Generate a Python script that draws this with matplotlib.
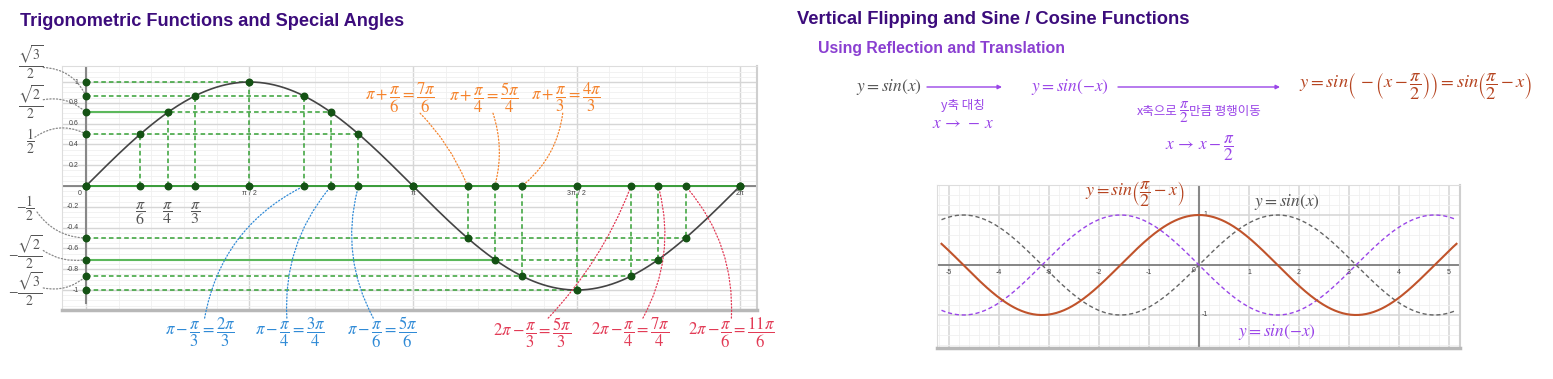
import numpy as np
import matplotlib.pyplot as plt

plt.rcParams['mathtext.fontset'] = 'stix'
plt.rcParams['font.family'] = ['Liberation Sans', 'DejaVu Sans']

# ---- data ----
pi = np.pi
# special angles (in units of pi) shown on the unit sine curve
angle_fracs = [0, 1/6, 1/4, 1/3, 1/2, 2/3, 3/4, 5/6, 1, 7/6, 5/4, 4/3, 3/2, 5/3, 7/4, 11/6, 2]
# horizontal guide for each level ends at this angle (units of pi)
guide_end_fracs = [1/2, 2/3, 3/4, 5/6, 11/6, 7/4, 5/3, 3/2]
solid_guide_fracs = [1/4, 5/4]          # +-sqrt2/2 guides are solid up to here
x_tick_fracs = [0, 1/2, 1, 3/2, 2]
x_tick_text = ['0', 'π / 2', 'π', '3π / 2', '2π']
y_tick_vals = [1, 0.8, 0.6, 0.4, 0.2, -0.2, -0.4, -0.6, -0.8, -1]

value_labels = [r'$\dfrac{\sqrt{3}}{2}$', r'$\dfrac{\sqrt{2}}{2}$', r'$\dfrac{1}{2}$',
                r'$-\dfrac{1}{2}$', r'$-\dfrac{\sqrt{2}}{2}$', r'$-\dfrac{\sqrt{3}}{2}$']
value_targets = [np.sqrt(3)/2, np.sqrt(2)/2, 0.5, -0.5, -np.sqrt(2)/2, -np.sqrt(3)/2]

base_fracs = [1/6, 1/4, 1/3]
base_labels = [r'$\dfrac{\pi}{6}$', r'$\dfrac{\pi}{4}$', r'$\dfrac{\pi}{3}$']

plus_fracs = [7/6, 5/4, 4/3]
plus_labels = [r'$\pi+\dfrac{\pi}{6}=\dfrac{7\pi}{6}$', r'$\pi+\dfrac{\pi}{4}=\dfrac{5\pi}{4}$',
               r'$\pi+\dfrac{\pi}{3}=\dfrac{4\pi}{3}$']
minus_fracs = [2/3, 3/4, 5/6]
minus_labels = [r'$\pi-\dfrac{\pi}{3}=\dfrac{2\pi}{3}$', r'$\pi-\dfrac{\pi}{4}=\dfrac{3\pi}{4}$',
                r'$\pi-\dfrac{\pi}{6}=\dfrac{5\pi}{6}$']
two_minus_fracs = [5/3, 7/4, 11/6]
two_minus_labels = [r'$2\pi-\dfrac{\pi}{3}=\dfrac{5\pi}{3}$', r'$2\pi-\dfrac{\pi}{4}=\dfrac{7\pi}{4}$',
                    r'$2\pi-\dfrac{\pi}{6}=\dfrac{11\pi}{6}$']

right_ticks = [-5, -4, -3, -2, -1, 0, 1, 2, 3, 4, 5]

# ---- colours ----
TITLE = '#3c0c7c'
SUB = '#8a3fd1'
PURPLE = '#9a45e8'
RUST = '#c0532b'
GREEN = '#35a035'
DOT = '#145214'
ORANGE = '#f5822a'
BLUE = '#2f8ad6'
RED = '#e23a55'
GRAY = '#555555'

W, H = 1553, 379
fig = plt.figure(figsize=(W / 100, H / 100), dpi=100)


def box(x0, y0, x1, y1):
    return fig.add_axes([x0 / W, 1 - y1 / H, (x1 - x0) / W, (y1 - y0) / H])


def style_frame(ax):
    for s in ax.spines.values():
        s.set_color('#dddddd')
    ax.spines['bottom'].set_color('#b8b8b8')
    ax.spines['bottom'].set_linewidth(2.5)
    ax.spines['right'].set_color('#cfcfcf')
    ax.spines['right'].set_linewidth(1.5)
    ax.tick_params(which='both', length=0, labelbottom=False, labelleft=False)


# ================= left chart =================
ax = box(62, 66, 757, 310)
ax.set_xlim(-0.23, 6.446)
ax.set_ylim(-1.192, 1.154)
style_frame(ax)
ax.set_xticks(pi * np.arange(0, 2.01, 0.5))
ax.set_xticks(pi * np.arange(0, 2.01, 0.1), minor=True)
ax.set_yticks(np.arange(-1, 1.01, 0.2))
ax.set_yticks(np.arange(-1.15, 1.16, 0.05), minor=True)
ax.grid(which='major', color='#d6d6d6', lw=1.0)
ax.grid(which='minor', color='#f0f0f0', lw=0.6)
ax.set_axisbelow(True)

ax.axhline(0, color='#777777', lw=1.2, zorder=1)
ax.plot([0, 0], [-1.12, 1.15], color='#888888', lw=1.5, zorder=1)
ax.plot([0, 2 * pi], [0, 0], color=GREEN, lw=1.3, zorder=2)

ang = pi * np.array(angle_fracs)
vals = np.sin(ang)
xs = np.linspace(0, 2 * pi, 400)
ax.plot(xs, np.sin(xs), color='#444444', lw=1.2, zorder=3)

# horizontal guides
ends = pi * np.array(guide_end_fracs)
for e in ends:
    ax.plot([0, e], [np.sin(e), np.sin(e)], color=GREEN, lw=1.1, ls=(0, (3, 2)), zorder=2)
for s in pi * np.array(solid_guide_fracs):
    ax.plot([0, s], [np.sin(s), np.sin(s)], color='#5cb85c', lw=1.5, zorder=2)
# vertical guides
for a, v in zip(ang, vals):
    if abs(v) > 1e-9:
        ax.plot([a, a], [0, v], color=GREEN, lw=1.1, ls=(0, (3, 2)), zorder=2)

ax.scatter(ang, vals, s=22, color=DOT, zorder=5)
ax.scatter(ang, np.zeros_like(ang), s=22, color=DOT, zorder=5)
ax.scatter(np.zeros(len(ends)), np.sin(ends), s=22, color=DOT, zorder=5)

for v in y_tick_vals:
    ax.text(-0.07, v, f'{v:g}', fontsize=5, color='#444444', ha='right', va='center')
for f, t in zip(x_tick_fracs, x_tick_text):
    ax.text(pi * f if f else -0.06, -0.07, t, fontsize=5, color='#444444', ha='center', va='center')

# value labels on the left
lab_pos = [(-0.53, 1.19), (-0.53, 0.80), (-0.53, 0.425), (-0.58, -0.21), (-0.58, -0.64), (-0.58, -0.99)]
conn_from = [(-0.41, 1.14), (-0.41, 0.83), (-0.49, 0.47), (-0.47, -0.25), (-0.41, -0.62), (-0.41, -0.98)]
conn_rad = [-0.3, -0.25, -0.3, 0.25, 0.2, 0.25]
for lab, p, c, r, t in zip(value_labels, lab_pos, conn_from, conn_rad, value_targets):
    ax.text(p[0], p[1], lab, fontsize=10, color=GRAY, ha='center', va='center', clip_on=False)
    ax.annotate('', xy=(0, t), xytext=c, annotation_clip=False,
                arrowprops=dict(arrowstyle='-', ls=':', color='#888888', lw=0.9,
                                connectionstyle=f'arc3,rad={r}', shrinkA=0, shrinkB=2))

for f, lab in zip(base_fracs, base_labels):
    ax.text(pi * f, -0.26, lab, fontsize=11.5, color=GRAY, ha='center', va='center')


def group(fracs, labels, centers, starts, rads, color, y_text):
    for f, lab, cx, st, r in zip(fracs, labels, centers, starts, rads):
        ax.text(cx, y_text, lab, fontsize=12, color=color, ha='center', va='center', clip_on=False)
        ax.annotate('', xy=(pi * f, 0), xytext=st, annotation_clip=False,
                    arrowprops=dict(arrowstyle='-', ls=':', color=color, lw=0.9,
                                    connectionstyle=f'arc3,rad={r}', shrinkA=0, shrinkB=3))


group(plus_fracs, plus_labels, [3.02, 3.83, 4.61],
      [(3.21, 0.70), (3.91, 0.70), (4.58, 0.70)], [-0.1, -0.15, -0.2], ORANGE, 0.85)
group(minus_fracs, minus_labels, [1.10, 1.96, 2.85],
      [(1.14, -1.27), (1.93, -1.27), (2.76, -1.27)], [-0.25, -0.2, -0.2], BLUE, -1.41)
group(two_minus_fracs, two_minus_labels, [4.29, 5.23, 6.20],
      [(4.44, -1.27), (5.35, -1.27), (6.20, -1.27)], [0.1, 0.2, 0.2], RED, -1.41)

fig.text(20 / W, 1 - 21 / H, 'Trigonometric Functions and Special Angles', fontsize=13.1,
         fontweight='bold', color=TITLE, va='center')

# ================= right side =================
fig.text(797 / W, 1 - 20 / H, 'Vertical Flipping and Sine / Cosine Functions', fontsize=13.2,
         fontweight='bold', color=TITLE, va='center')
fig.text(818 / W, 1 - 48 / H, 'Using Reflection and Translation', fontsize=11.4,
         fontweight='bold', color=SUB, va='center')

kr = ['Noto Sans CJK KR', 'DejaVu Sans']
overlay = fig.add_axes([0, 0, 1, 1], facecolor='none')
overlay.set_axis_off()
overlay.set_xlim(0, W)
overlay.set_ylim(H, 0)


def ftext(x, y, s, ha='center', **kw):
    overlay.text(x, y, s, ha=ha, va='center', **kw)


def farrow(x0, x1, y):
    overlay.annotate('', xy=(x1, y), xytext=(x0, y),
                     arrowprops=dict(arrowstyle='-|>', color=PURPLE, lw=1.0,
                                     mutation_scale=6, shrinkA=0, shrinkB=0))


ftext(889, 87, r'$y=sin(x)$', fontsize=12.5, color=GRAY)
farrow(927, 1002, 87)
ftext(963, 105, 'y축 대칭', fontsize=9, color=PURPLE, family=kr)
ftext(963, 124, r'$x\,\rightarrow\,-\,x$', fontsize=12.5, color=PURPLE)
ftext(1070, 87, r'$y=sin(-x)$', fontsize=12.5, color=PURPLE)
farrow(1118, 1280, 87)
ftext(1178, 112, 'x축으로', ha='right', fontsize=9, color=PURPLE, family=kr)
ftext(1184, 112, r'$\dfrac{\pi}{2}$', fontsize=11, color=PURPLE)
ftext(1189, 112, '만큼 평행이동', ha='left', fontsize=9, color=PURPLE, family=kr)
ftext(1200, 148, r'$x\,\rightarrow\,x-\dfrac{\pi}{2}$', fontsize=12.5, color=PURPLE)
ftext(1416, 86, r'$y=sin\left(\,-\left(x-\dfrac{\pi}{2}\right)\right)=sin\left(\dfrac{\pi}{2}-x\right)$',
      fontsize=13.3, color='#b5431f')

# ---- right chart ----
bx = box(937, 185, 1460, 348)
bx.set_xlim(-5.24, 5.22)
bx.set_ylim(-1.66, 1.6)
style_frame(bx)
bx.set_xticks(right_ticks)
bx.set_xticks(np.arange(-5.2, 5.21, 0.2), minor=True)
bx.set_yticks([-1, 0, 1])
bx.set_yticks(np.arange(-1.6, 1.61, 0.2), minor=True)
bx.grid(which='major', color='#d8d8d8', lw=1.2)
bx.grid(which='minor', color='#f0f0f0', lw=0.6)
bx.set_axisbelow(True)
bx.axhline(0, color='#777777', lw=1.2, zorder=1)
bx.axvline(0, color='#888888', lw=1.5, zorder=1)

xr = np.linspace(-5.15, 5.15, 400)
bx.plot(xr, np.sin(xr), color='#666666', lw=1.0, ls=(0, (3, 2)), zorder=3)
bx.plot(xr, np.sin(-xr), color=PURPLE, lw=1.0, ls=(0, (3, 2)), zorder=3)
bx.plot(xr, np.sin(pi / 2 - xr), color=RUST, lw=1.5, zorder=4)

for t in right_ticks:
    if t != 0:
        bx.text(t, -0.14, f'{t}', fontsize=5, color='#444444', ha='center', va='center')
bx.text(-0.1, -0.12, '0', fontsize=5, color='#444444', ha='center', va='center')
bx.text(0.08, 1.0, '1', fontsize=5, color='#444444', ha='left', va='center')
bx.text(0.05, -1.0, '-1', fontsize=5, color='#444444', ha='left', va='center')

bx.text(-1.28, 1.42, r'$y=sin\left(\dfrac{\pi}{2}-x\right)$', fontsize=13, color='#b5431f',
        ha='center', va='center', clip_on=False)
bx.text(1.76, 1.26, r'$y=sin(x)$', fontsize=12.5, color=GRAY, ha='center', va='center')
bx.text(1.56, -1.34, r'$y=sin(-x)$', fontsize=12.5, color=PURPLE, ha='center', va='center')

fig.savefig('out.png', dpi=100)
